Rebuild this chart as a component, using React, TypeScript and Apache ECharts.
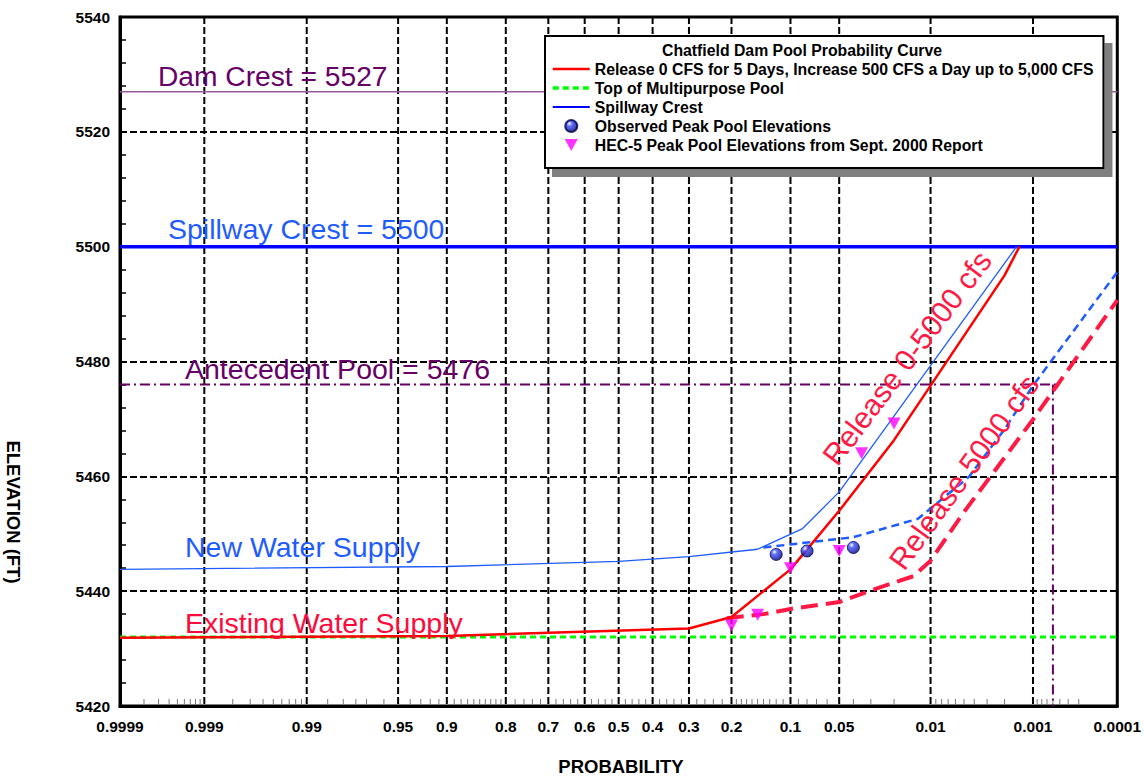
import React, { useEffect, useRef } from 'react';
import * as echarts from 'echarts';

const FONT = '"Liberation Sans", Arial, Helvetica, sans-serif';

// ---- axis definitions ----
const labelProbs = [0.9999, 0.999, 0.99, 0.95, 0.9, 0.8, 0.7, 0.6, 0.5, 0.4, 0.3, 0.2, 0.1, 0.05, 0.01, 0.001, 0.0001];
const labelTexts = ['0.9999', '0.999', '0.99', '0.95', '0.9', '0.8', '0.7', '0.6', '0.5', '0.4', '0.3', '0.2', '0.1', '0.05', '0.01', '0.001', '0.0001'];
const gridProbs = [0.999, 0.99, 0.95, 0.9, 0.8, 0.7, 0.6, 0.5, 0.4, 0.3, 0.2, 0.1, 0.05, 0.01, 0.001];
const minorProbs = [
  0.9998, 0.9997, 0.9996, 0.9995, 0.9994, 0.9993, 0.9992, 0.9991,
  0.998, 0.997, 0.996, 0.995, 0.994, 0.993, 0.992, 0.991,
  0.985, 0.98, 0.975, 0.97, 0.96,
  0.94, 0.93, 0.92, 0.91,
  0.89, 0.88, 0.87, 0.86, 0.85, 0.84, 0.83, 0.82, 0.81,
  0.78, 0.76, 0.74, 0.72,
  0.68, 0.66, 0.64, 0.62,
  0.58, 0.56, 0.54, 0.52,
  0.48, 0.46, 0.44, 0.42,
  0.38, 0.36, 0.34, 0.32,
  0.28, 0.26, 0.24, 0.22,
  0.19, 0.18, 0.17, 0.16, 0.15, 0.14, 0.13, 0.12, 0.11,
  0.09, 0.08, 0.07, 0.06,
  0.04, 0.03, 0.02,
  0.009, 0.008, 0.007, 0.006, 0.005, 0.004, 0.003, 0.002,
  0.0009, 0.0008, 0.0007, 0.0006, 0.0005, 0.0004, 0.0003,
];
const Y_MIN = 5420;
const Y_MAX = 5540;
const Y_STEP = 20;

// ---- reference levels ----
const damCrest = 5527;
const spillwayCrest = 5500;
const antecedentPool = 5476;
const multipurposePool = 5432;
const antecedentHorizEnd = 0.0005;
const antecedentVertProb = 0.0006;

// ---- curves (exceedance probability, elevation ft) ----
const release0Probs = [0.9999, 0.9, 0.3, 0.2, 0.1, 0.05, 0.02, 0.002, 0.0014];
const release0Elev = [5431.9, 5432.2, 5433.5, 5435.5, 5443.8, 5454.0, 5466.3, 5495.0, 5500.0];

const newWs0Probs = [0.9999, 0.9, 0.5, 0.3, 0.15, 0.085, 0.05, 0.0015];
const newWs0Elev = [5443.8, 5444.3, 5445.2, 5446.0, 5447.3, 5450.9, 5457.3, 5500.0];

const newWs5000Probs = [0.14, 0.04, 0.0128, 0.01, 0.0045, 0.002, 0.001, 0.0001];
const newWs5000Elev = [5447.6, 5449.4, 5452.6, 5454.4, 5459.9, 5468.2, 5475.8, 5495.6];

const exWs5000Probs = [0.21, 0.14, 0.1, 0.05, 0.027, 0.014, 0.01, 0.005, 0.001, 0.0001];
const exWs5000Elev = [5435.3, 5436.0, 5436.9, 5438.1, 5440.5, 5442.6, 5445.3, 5453.8, 5469.9, 5490.7];

const observedProbs = [0.12, 0.08, 0.04];
const observedElev = [5446.4, 5447.0, 5447.6];

const hecProbs = [0.2, 0.15, 0.1, 0.05, 0.035, 0.02];
const hecElev = [5434.0, 5435.9, 5444.0, 5447.0, 5464.0, 5469.2];

const NAME_RELEASE = 'Release 0 CFS for 5 Days, Increase 500 CFS a Day up to 5,000 CFS';
const NAME_MULTI = 'Top of Multipurpose Pool';
const NAME_SPILL = 'Spillway Crest';
const NAME_OBS = 'Observed Peak Pool Elevations';
const NAME_HEC = 'HEC-5 Peak Pool Elevations from Sept. 2000 Report';

// inverse standard normal CDF (Acklam) - used as the probability-scale transform
function invNorm(p: number): number {
  const a = [-3.969683028665376e1, 2.209460984245205e2, -2.759285104469687e2, 1.38357751867269e2, -3.066479806614716e1, 2.506628277459239];
  const b = [-5.447609879822406e1, 1.615858368580409e2, -1.556989798598866e2, 6.680131188771972e1, -1.328068155288572e1];
  const c = [-7.784894002430293e-3, -3.223964580411365e-1, -2.400758277161838, -2.549732539343734, 4.374664141464968, 2.938163982698783];
  const d = [7.784695709041462e-3, 3.224671290700398e-1, 2.445134137142996, 3.754408661907416];
  const pl = 0.02425;
  if (p < pl) {
    const q = Math.sqrt(-2 * Math.log(p));
    return (((((c[0] * q + c[1]) * q + c[2]) * q + c[3]) * q + c[4]) * q + c[5]) / ((((d[0] * q + d[1]) * q + d[2]) * q + d[3]) * q + 1);
  }
  if (p <= 1 - pl) {
    const q = p - 0.5;
    const r = q * q;
    return ((((((a[0] * r + a[1]) * r + a[2]) * r + a[3]) * r + a[4]) * r + a[5]) * q) / (((((b[0] * r + b[1]) * r + b[2]) * r + b[3]) * r + b[4]) * r + 1);
  }
  const q = Math.sqrt(-2 * Math.log(1 - p));
  return -(((((c[0] * q + c[1]) * q + c[2]) * q + c[3]) * q + c[4]) * q + c[5]) / ((((d[0] * q + d[1]) * q + d[2]) * q + d[3]) * q + 1);
}
const toX = (p: number) => invNorm(1 - p);
const X_MIN = toX(0.9999);
const X_MAX = toX(0.0001);
const pairs = (ps: number[], es: number[]) => ps.map((p, i) => [toX(p), es[i]]);
const labelFor = (v: number) => {
  let best = 0;
  let bd = Infinity;
  labelProbs.forEach((p, i) => {
    const dd = Math.abs(toX(p) - v);
    if (dd < bd) { bd = dd; best = i; }
  });
  return labelTexts[best];
};

const annText = (text: string, x: number, y: number, fill: string, size = 28.5, rotDeg = 0, align = 'left') => ({
  type: 'text',
  x,
  y,
  rotation: (rotDeg * Math.PI) / 180,
  z: 100,
  silent: true,
  style: {
    text,
    fill,
    font: `${size}px ${FONT}`,
    textAlign: align,
    textVerticalAlign: 'middle',
  },
});

export default function App() {
  const ref = useRef<HTMLDivElement>(null);
  useEffect(() => {
    if (!ref.current) return;
    const chart = echarts.init(ref.current, null, { renderer: 'svg' });
    const option: any = {
      animation: false,
      backgroundColor: '#ffffff',
      grid: { left: 120, top: 17, right: 26, bottom: 71, show: true, borderColor: '#000', borderWidth: 3, backgroundColor: 'transparent' },
      xAxis: {
        type: 'value',
        min: X_MIN,
        max: X_MAX,
        axisLine: { show: true, onZero: false, lineStyle: { color: '#000', width: 3 } },
        axisTick: { show: false },
        splitLine: { show: false },
        axisLabel: {
          customValues: labelProbs.map(toX),
          formatter: (v: number) => labelFor(v),
          fontWeight: 'bold',
          fontSize: 15.5,
          fontFamily: FONT,
          color: '#000',
          margin: 12,
          showMinLabel: true,
          showMaxLabel: true,
          hideOverlap: false,
        },
      },
      yAxis: {
        type: 'value',
        min: Y_MIN,
        max: Y_MAX,
        interval: Y_STEP,
        axisLine: { show: true, onZero: false, lineStyle: { color: '#000', width: 3 } },
        axisTick: { show: true, inside: true, length: 7, lineStyle: { color: '#000', width: 1.5 } },
        minorTick: { show: true, splitNumber: 5, length: 6, lineStyle: { color: '#000', width: 1.5 } },
        splitLine: { show: true, lineStyle: { color: '#000', width: 2, type: [7, 3] } },
        axisLabel: { formatter: (v: number) => String(v), fontWeight: 'bold', fontSize: 15.5, fontFamily: FONT, color: '#000', margin: 10 },
      },
      legend: {
        orient: 'vertical',
        left: 545,
        top: 36,
        padding: [25, 10, 15, 6],
        itemWidth: 37,
        itemHeight: 12,
        itemGap: 3,
        selectedMode: false,
        backgroundColor: '#ffffff',
        borderColor: '#000',
        borderWidth: 2,
        shadowColor: '#808080',
        shadowBlur: 0,
        shadowOffsetX: 8,
        shadowOffsetY: 8,
        textStyle: { fontWeight: 'bold', fontSize: 15.8, fontFamily: FONT, color: '#000' },
        data: [
          { name: NAME_RELEASE, lineStyle: { width: 2.5 }, itemStyle: { opacity: 0 } },
          { name: NAME_MULTI, lineStyle: { width: 3.5, type: [6, 4] }, itemStyle: { opacity: 0 } },
          { name: NAME_SPILL, lineStyle: { width: 2 }, itemStyle: { opacity: 0 } },
          { name: NAME_OBS, icon: 'circle' },
          { name: NAME_HEC, icon: 'path://M0,0 L12,0 L6,11 Z' },
        ],
      },
      graphic: [
        { type: 'text', x: 802, y: 50, z: 100, silent: true, style: { text: 'Chatfield Dam Pool Probability Curve', fill: '#000', font: `bold 15.8px ${FONT}`, textAlign: 'center', textVerticalAlign: 'middle' } },
        { type: 'text', x: 13, y: 512, rotation: -Math.PI / 2, z: 100, silent: true, style: { text: 'ELEVATION (FT)', fill: '#000', font: `bold 18.5px ${FONT}`, textAlign: 'center', textVerticalAlign: 'middle' } },
        { type: 'text', x: 621, y: 766, z: 100, silent: true, style: { text: 'PROBABILITY', fill: '#000', font: `bold 18.5px ${FONT}`, textAlign: 'center', textVerticalAlign: 'middle' } },
        annText('Dam Crest = 5527', 158, 76, '#660066', 28.2),
        annText('Spillway Crest = 5500', 168, 229, '#1f5cff'),
        annText('Antecedent Pool = 5476', 185, 369, '#660066'),
        annText('New Water Supply', 185, 547, '#1f5cff'),
        annText('Existing Water Supply', 185, 623, '#ff0a3c'),
        annText('Release 0-5000 cfs', 907, 358, '#ff1a45', 30, 53, 'center'),
        annText('Release 5000 cfs', 964, 472, '#ff1a45', 30, 54, 'center'),
      ],
      series: [
        {
          name: 'majorGrid',
          type: 'custom',
          silent: true,
          z: 1,
          data: gridProbs.map((p) => [toX(p), Y_MIN]),
          encode: { x: 0, y: 1 },
          renderItem: (params: any, api: any) => {
            const x = api.value(0);
            const t = api.coord([x, Y_MAX]);
            const b = api.coord([x, Y_MIN]);
            return { type: 'line', shape: { x1: t[0], y1: t[1], x2: b[0], y2: b[1] }, style: { stroke: '#000', lineWidth: 2, lineDash: [7, 3] } };
          },
        },
        {
          name: 'minorTicks',
          type: 'custom',
          silent: true,
          z: 1,
          data: minorProbs.map((p) => [toX(p), Y_MIN]),
          encode: { x: 0, y: 1 },
          renderItem: (params: any, api: any) => {
            const b = api.coord([api.value(0), Y_MIN]);
            return { type: 'line', shape: { x1: b[0], y1: b[1] - 1, x2: b[0], y2: b[1] - 7 }, style: { stroke: '#777', lineWidth: 1 } };
          },
        },
        {
          name: 'Dam Crest',
          type: 'line',
          symbol: 'none',
          silent: true,
          lineStyle: { color: '#9a5a9a', width: 1.5 },
          data: [[X_MIN, damCrest], [X_MAX, damCrest]],
        },
        {
          name: 'Antecedent Pool',
          type: 'line',
          symbol: 'none',
          silent: true,
          lineStyle: { color: '#660066', width: 2, type: [10, 4, 2, 4] },
          data: [[X_MIN, antecedentPool], [toX(antecedentHorizEnd), antecedentPool]],
        },
        {
          name: 'Antecedent Pool Probability',
          type: 'line',
          symbol: 'none',
          silent: true,
          lineStyle: { color: '#660066', width: 2, type: [10, 4, 2, 4] },
          data: [[toX(antecedentVertProb), antecedentPool], [toX(antecedentVertProb), Y_MIN]],
        },
        {
          name: NAME_MULTI,
          type: 'line',
          symbol: 'none',
          silent: true,
          itemStyle: { color: '#00ff00' },
          lineStyle: { color: '#00ff00', width: 3, type: [6, 4] },
          data: [[X_MIN, multipurposePool], [X_MAX, multipurposePool]],
        },
        {
          name: NAME_SPILL,
          type: 'line',
          symbol: 'none',
          silent: true,
          itemStyle: { color: '#0000ff' },
          lineStyle: { color: '#0000ff', width: 3.5 },
          data: [[X_MIN, spillwayCrest], [X_MAX, spillwayCrest]],
        },
        {
          name: 'New Water Supply 0-5000 cfs',
          type: 'line',
          symbol: 'none',
          silent: true,
          lineStyle: { color: '#1f5cff', width: 1.3 },
          data: pairs(newWs0Probs, newWs0Elev),
        },
        {
          name: 'New Water Supply 5000 cfs',
          type: 'line',
          symbol: 'none',
          silent: true,
          lineStyle: { color: '#1f5cff', width: 2.5, type: [8, 5] },
          data: pairs(newWs5000Probs, newWs5000Elev),
        },
        {
          name: 'Existing Water Supply 5000 cfs',
          type: 'line',
          symbol: 'none',
          silent: true,
          lineStyle: { color: '#ff1a45', width: 4, type: [17, 8] },
          data: pairs(exWs5000Probs, exWs5000Elev),
        },
        {
          name: NAME_RELEASE,
          type: 'line',
          symbol: 'none',
          silent: true,
          itemStyle: { color: '#ff0000' },
          lineStyle: { color: '#ff0000', width: 2.5 },
          data: pairs(release0Probs, release0Elev),
        },
        {
          name: NAME_OBS,
          type: 'scatter',
          symbol: 'circle',
          symbolSize: 12,
          silent: true,
          z: 5,
          itemStyle: {
            color: {
              type: 'radial', x: 0.35, y: 0.3, r: 0.75,
              colorStops: [
                { offset: 0, color: '#ffffff' },
                { offset: 0.3, color: '#3a4cff' },
                { offset: 1, color: '#000070' },
              ],
            },
            borderColor: '#000050',
            borderWidth: 1,
          },
          data: pairs(observedProbs, observedElev),
        },
        {
          name: NAME_HEC,
          type: 'scatter',
          symbol: 'triangle',
          symbolRotate: 180,
          symbolSize: [13, 12],
          silent: true,
          z: 5,
          itemStyle: { color: '#ff00ff' },
          data: pairs(hecProbs, hecElev),
        },
      ],
    };
    chart.setOption(option);
    return () => chart.dispose();
  }, []);
  return <div ref={ref} style={{ position: 'fixed', left: 0, top: 0, width: 1144, height: 777 }} />;
}
